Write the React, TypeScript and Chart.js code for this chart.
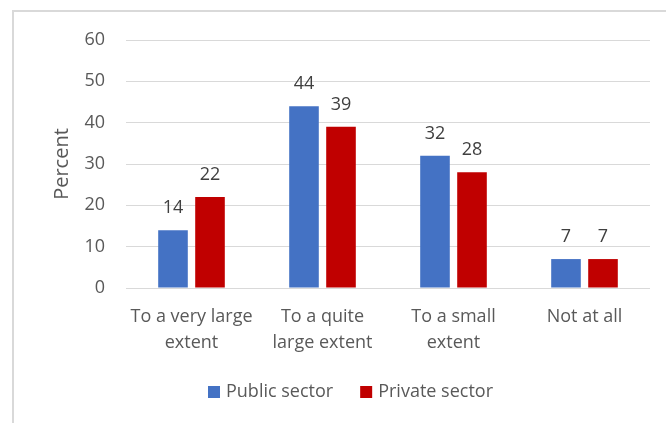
import React, { useEffect, useRef } from "react";
import { Chart, registerables } from "chart.js";

Chart.register(...registerables);

const categories: string[][] = [
  ["To a very large", "extent"],
  ["To a quite", "large extent"],
  ["To a small", "extent"],
  ["Not at all"],
];
const seriesNames = ["Public sector", "Private sector"];
const publicValues = [14, 44, 32, 7];
const privateValues = [22, 39, 28, 7];
const seriesColors = ["#4472C4", "#C00000"];
const yMin = 0;
const yMax = 60;
const yStep = 10;
const yTitle = "Percent";

const FONT = "'Open Sans', sans-serif";

const dataLabelPlugin = {
  id: "dataLabels",
  afterDatasetsDraw(chart: any) {
    const ctx = chart.ctx;
    ctx.save();
    ctx.font = `18px ${FONT}`;
    ctx.fillStyle = "#404040";
    ctx.textAlign = "center";
    ctx.textBaseline = "alphabetic";
    chart.data.datasets.forEach((ds: any, i: number) => {
      const meta = chart.getDatasetMeta(i);
      meta.data.forEach((el: any, j: number) => {
        ctx.fillText(String(ds.data[j]), el.x, el.y - 17);
      });
    });
    ctx.restore();
  },
};

const customLegendPlugin = {
  id: "customLegend",
  afterDraw(chart: any) {
    const ctx = chart.ctx;
    ctx.save();
    ctx.font = `18px ${FONT}`;
    const box = 12;
    const gapText = 6;
    const gapItem = 27;
    const items = chart.data.datasets.map((ds: any) => ({
      label: ds.label,
      color: ds.backgroundColor,
      w: ctx.measureText(ds.label).width,
    }));
    let total = 0;
    items.forEach((it: any, i: number) => {
      total += box + gapText + it.w + (i > 0 ? gapItem : 0);
    });
    const centerX = 350.5;
    const midY = 392;
    let x = centerX - total / 2;
    items.forEach((it: any) => {
      ctx.fillStyle = it.color;
      ctx.fillRect(x, midY - box / 2, box, box);
      ctx.fillStyle = "#595959";
      ctx.textAlign = "left";
      ctx.textBaseline = "middle";
      ctx.fillText(it.label, x + box + gapText, midY);
      x += box + gapText + it.w + gapItem;
    });
    ctx.restore();
  },
};

export default function App() {
  const canvasRef = useRef<HTMLCanvasElement | null>(null);

  useEffect(() => {
    if (!canvasRef.current) return;
    const chart = new Chart(canvasRef.current, {
      type: "bar",
      data: {
        labels: categories,
        datasets: [
          {
            label: seriesNames[0],
            data: publicValues,
            backgroundColor: seriesColors[0],
            categoryPercentage: 0.565,
            barPercentage: 0.8,
          },
          {
            label: seriesNames[1],
            data: privateValues,
            backgroundColor: seriesColors[1],
            categoryPercentage: 0.565,
            barPercentage: 0.8,
          },
        ],
      },
      options: {
        animation: false,
        responsive: false,
        devicePixelRatio: 1,
        layout: { padding: { top: 40, right: 16, left: 0, bottom: 55 } },
        plugins: {
          legend: { display: false },
          tooltip: { enabled: false },
        },
        scales: {
          x: {
            grid: { display: false, drawTicks: false },
            border: { display: false },
            ticks: {
              font: { family: FONT, size: 18, lineHeight: 1.444 },
              color: "#595959",
              padding: 16,
              maxRotation: 0,
              autoSkip: false,
            },
            afterFit: (scale: any) => {
              scale.height = 80;
            },
          },
          y: {
            min: yMin,
            max: yMax,
            grid: { color: "#D9D9D9", lineWidth: 1, drawTicks: false },
            border: { display: false },
            ticks: {
              stepSize: yStep,
              font: { family: FONT, size: 18 },
              color: "#595959",
              padding: 21,
            },
            title: {
              display: true,
              text: yTitle,
              font: { family: FONT, size: 20 },
              color: "#595959",
              padding: { top: 50, bottom: 0 },
            },
            afterFit: (scale: any) => {
              scale.width = 126;
            },
          },
        },
      },
      plugins: [dataLabelPlugin, customLegendPlugin],
    });
    return () => chart.destroy();
  }, []);

  return (
    <div
      style={{
        position: "fixed",
        left: 0,
        top: 0,
        width: 666,
        height: 423,
        overflow: "hidden",
        background: "#fff",
      }}
    >
      <div
        style={{
          position: "absolute",
          left: 12,
          top: 10,
          width: 800,
          height: 600,
          border: "2px solid #D9D9D9",
          boxSizing: "border-box",
        }}
      />
      <canvas
        ref={canvasRef}
        width={666}
        height={423}
        style={{ position: "absolute", left: 0, top: 0, width: 666, height: 423 }}
      />
    </div>
  );
}
